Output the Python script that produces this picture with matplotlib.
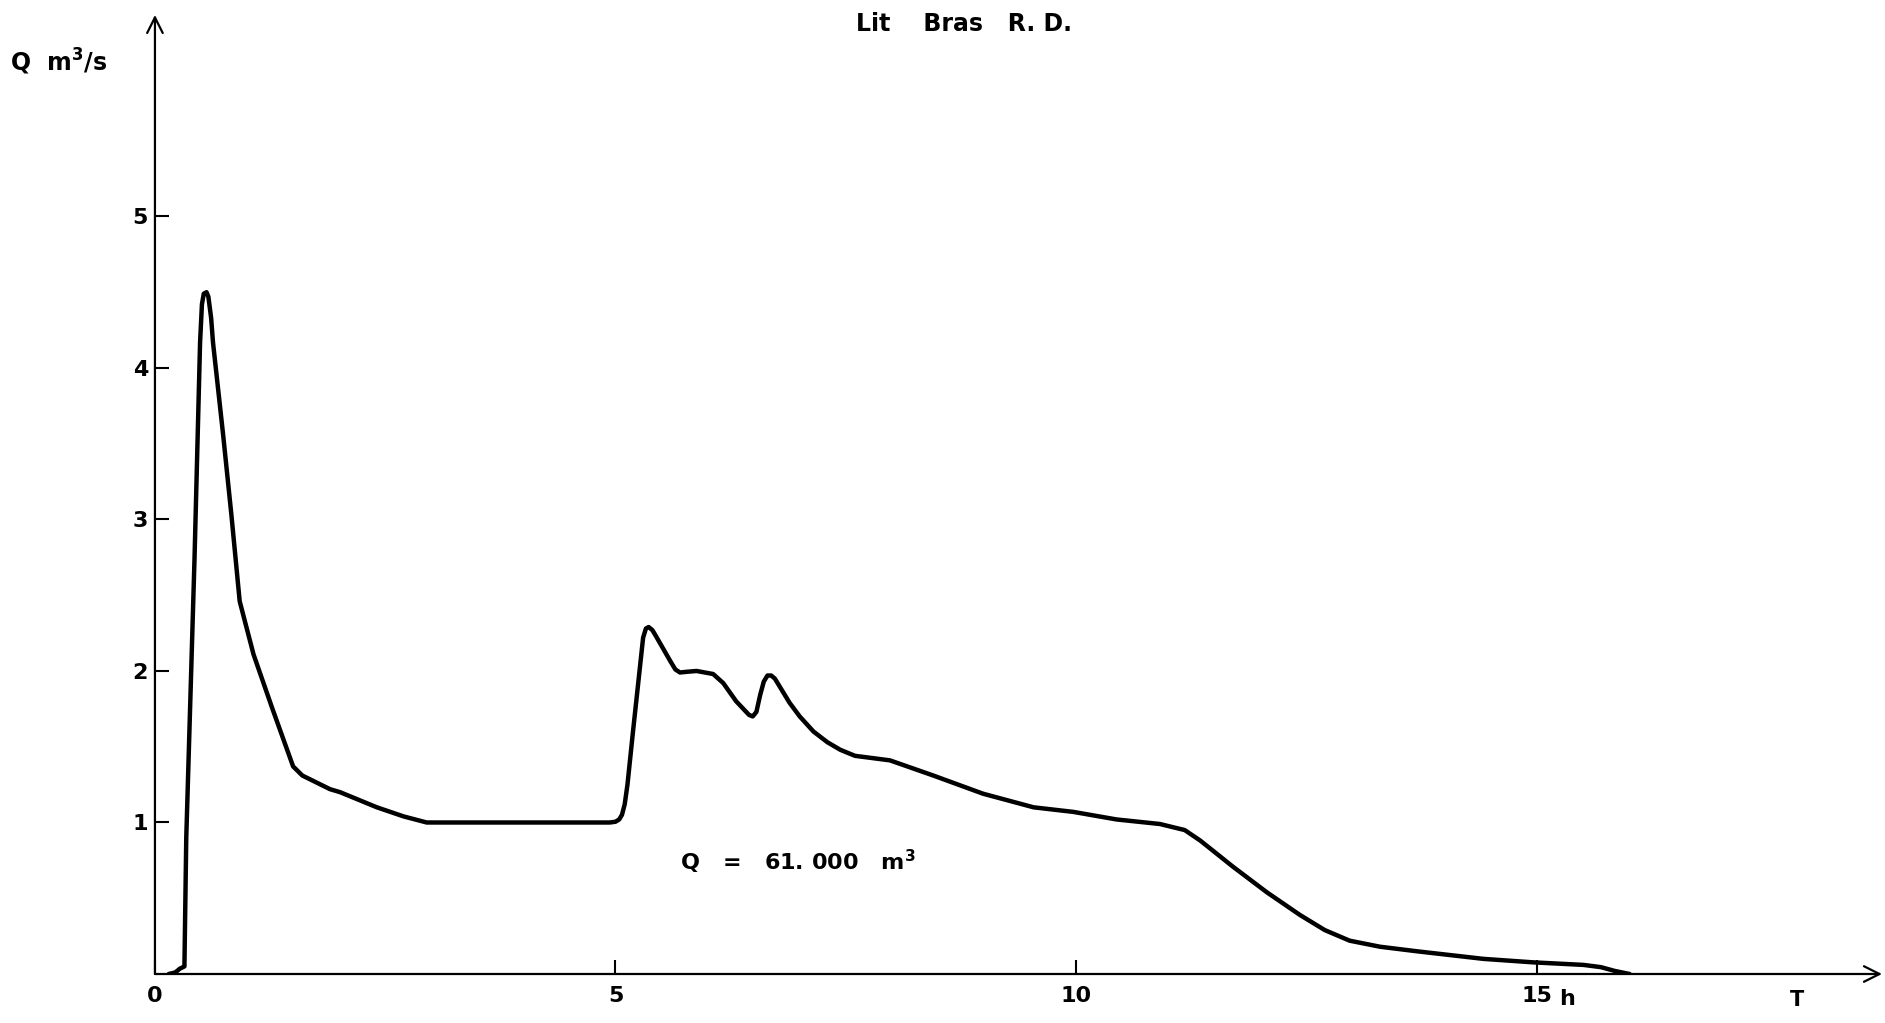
import matplotlib
matplotlib.use("Agg")
import matplotlib.pyplot as plt

# hydrograph of the right-bank channel, time in hours, discharge in m3/s
hours = [0.15, 0.22, 0.27, 0.32, 0.34, 0.43, 0.49, 0.51, 0.53, 0.56, 0.58,
         0.61, 0.63, 0.74, 0.83, 0.92, 1.07, 1.27, 1.50, 1.60, 1.90, 2.01,
         2.41, 2.70, 2.95, 4.94, 5.00, 5.04, 5.07, 5.10, 5.13, 5.19, 5.30,
         5.33, 5.36, 5.40, 5.43, 5.60, 5.65, 5.70, 5.78, 5.88, 6.06, 6.17,
         6.31, 6.45, 6.49, 6.53, 6.57, 6.61, 6.65, 6.69, 6.73, 6.89, 7.00,
         7.15, 7.30, 7.44, 7.60, 7.98, 8.45, 8.99, 9.54, 9.97, 10.44, 10.91,
         11.18, 11.35, 11.70, 12.07, 12.43, 12.70, 12.97, 13.30, 13.70,
         14.42, 14.96, 15.51, 15.70, 15.85, 16.01]
discharge = [0.0, 0.01, 0.035, 0.05, 0.90, 2.75, 4.17, 4.42, 4.49, 4.50, 4.47,
             4.33, 4.17, 3.56, 3.03, 2.46, 2.11, 1.76, 1.37, 1.31, 1.22, 1.20,
             1.10, 1.04, 1.00, 1.00, 1.005, 1.02, 1.05, 1.12, 1.25, 1.60, 2.22,
             2.28, 2.29, 2.27, 2.24, 2.06, 2.01, 1.99, 1.995, 2.00, 1.98, 1.92,
             1.80, 1.71, 1.70, 1.73, 1.84, 1.93, 1.97, 1.97, 1.95, 1.79, 1.70,
             1.60, 1.53, 1.48, 1.44, 1.41, 1.31, 1.19, 1.10, 1.07, 1.02, 0.99,
             0.95, 0.88, 0.71, 0.54, 0.39, 0.29, 0.22, 0.18, 0.15,
             0.10, 0.077, 0.06, 0.045, 0.02, 0.0]

x_ticks = [0, 5, 10, 15]
x_tick_labels = ["0", "5", "10", "15"]
y_ticks = [1, 2, 3, 4, 5]
y_tick_labels = ["1", "2", "3", "4", "5"]

volume_label = "Q   =   61. 000   m$^{3}$"
title = "Lit    Bras   R. D."

X_MAX = 18.75
Y_MAX = 6.33

plt.rcParams["font.family"] = ["DejaVu Sans"]
plt.rcParams["mathtext.fontset"] = "dejavusans"
plt.rcParams["mathtext.default"] = "bf"
plt.rcParams["font.weight"] = "bold"

fig = plt.figure(figsize=(18.85, 10.23), dpi=100)
ax = fig.add_axes([0.0822, 0.0479, 0.9162, 0.9375])
ax.set_xlim(0, X_MAX)
ax.set_ylim(0, Y_MAX)
for s in ax.spines.values():
    s.set_visible(False)

ax.plot(hours, discharge, color="black", lw=3.2,
        solid_joinstyle="round", solid_capstyle="round", zorder=3)

# axes drawn as arrows
arrow = dict(arrowstyle="->", lw=1.6, color="black",
             shrinkA=0, shrinkB=0, mutation_scale=28)
ax.annotate("", xy=(X_MAX, 0), xytext=(0, 0), arrowprops=arrow,
            annotation_clip=False)
ax.annotate("", xy=(0, Y_MAX), xytext=(0, 0), arrowprops=arrow,
            annotation_clip=False)

ax.set_xticks(x_ticks)
ax.set_xticklabels(x_tick_labels)
ax.set_yticks(y_ticks)
ax.set_yticklabels(y_tick_labels)
ax.tick_params(direction="in", length=10, width=1.5, labelsize=16, pad=9)
ax.tick_params(axis="y", pad=5)

ax.text(15.33, -0.165, "h", fontsize=16, ha="center", va="center")
ax.text(17.83, -0.17, "T", fontsize=15, ha="center", va="center")

ax.text(5.70, 0.74, volume_label, fontsize=16, ha="left", va="center")

fig.text(10 / 1885, 1 - 62 / 1023, "Q  m$^{3}$/s", fontsize=17,
         ha="left", va="center")
fig.text(964 / 1885, 1 - 24 / 1023, title, fontsize=17,
         ha="center", va="center")

fig.savefig("out.png", dpi=100, facecolor="white")
